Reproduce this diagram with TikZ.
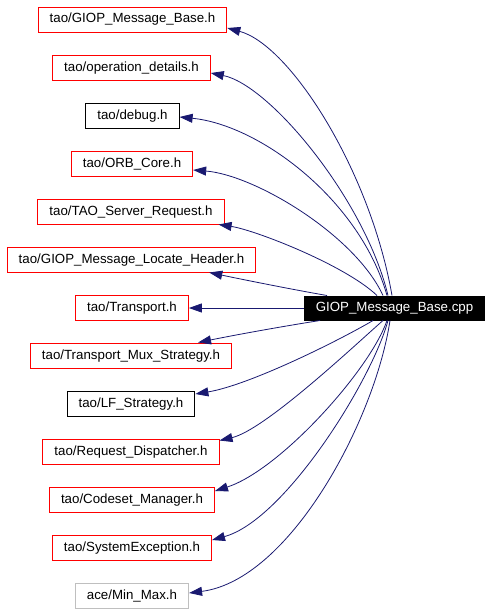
\documentclass[tikz,border=0pt]{standalone}
\usepackage{fontspec}
\setmainfont{Liberation Sans}
\usepackage{xcolor}
\usetikzlibrary{arrows.meta, positioning, calc}
\definecolor{navy}{HTML}{191970}
\definecolor{lightgray}{HTML}{BFBFBF}

\begin{document}
\begin{tikzpicture}[x=1pt, y=-1pt,
    file/.style={draw, line width=1pt, inner xsep=11.5pt, inner ysep=0pt,
                 minimum height=25pt, text height=10pt, text depth=3pt,
                 font=\fontsize{13.3pt}{16pt}\selectfont},
    redbox/.style={file, draw=red},
    blackbox/.style={file, draw=black},
    graybox/.style={file, draw=lightgray},
    srcbox/.style={file, draw=black, fill=black, text=white, minimum height=24pt},
    dep/.style={draw=navy, line width=0.8pt, -{Triangle[length=13pt, width=9pt]}}]
  \useasboundingbox (0,0) rectangle (491,613);

  % Source file
  \node [srcbox] (cpp) at (394.5,308) {GIOP\_Message\_Base.cpp};

  % Included headers
  \node [redbox]   (base)      at (132.5,19.5)  {tao/GIOP\_Message\_Base.h};
  \node [redbox]   (opdetails) at (131.5,67.5)  {tao/operation\_details.h};
  \node [blackbox] (debug)     at (132.5,115.5) {tao/debug.h};
  \node [redbox]   (orbcore)   at (132,163.5)   {tao/ORB\_Core.h};
  \node [redbox]   (srvreq)    at (131,211.5)   {tao/TAO\_Server\_Request.h};
  \node [redbox]   (locate)    at (131.5,259.5) {tao/GIOP\_Message\_Locate\_Header.h};
  \node [redbox]   (transport) at (132,308)     {tao/Transport.h};
  \node [redbox]   (muxstrat)  at (131,355.5)   {tao/Transport\_Mux\_Strategy.h};
  \node [blackbox] (lfstrat)   at (131,403.5)   {tao/LF\_Strategy.h};
  \node [redbox]   (reqdisp)   at (131,451.5)   {tao/Request\_Dispatcher.h};
  \node [redbox]   (codeset)   at (132,499.5)   {tao/Codeset\_Manager.h};
  \node [redbox]   (sysexc)    at (132,547.5)   {tao/SystemException.h};
  \node [graybox]  (minmax)    at (132,595.5)   {ace/Min\_Max.h};

  % Upper dependencies
  \draw [dep] ([xshift=-2.5pt]cpp.north) .. controls (370,170) and (290,45) .. ([yshift=-8.5pt]base.east);
  \draw [dep] ([xshift=-6.5pt]cpp.north) .. controls (365,200) and (270,85) .. ([yshift=-5.5pt]opdetails.east);
  \draw [dep] ([xshift=-7.5pt]cpp.north) .. controls (360,200) and (260,125) .. ([yshift=-1.5pt]debug.east);
  \draw [dep] ([xshift=-11.5pt]cpp.north) .. controls (355,235) and (255,175) .. ([yshift=-6.5pt]orbcore.east);
  \draw [dep] ([xshift=-17.5pt]cpp.north) .. controls (345,265) and (255,230) .. ([xshift=-6pt]srvreq.south east);
  \draw [dep] ([xshift=-67.5pt]cpp.north) .. controls (295,290) and (245,280) .. ([xshift=-47pt]locate.south east);

  % Straight one
  \draw [dep] (cpp.west) -- (transport.east);

  % Lower dependencies
  \draw [dep] ([xshift=-74.5pt]cpp.south) .. controls (285,326) and (240,334) .. ([xshift=-34pt]muxstrat.north east);
  \draw [dep] ([xshift=-21.5pt]cpp.south) .. controls (340,340) and (250,385) .. ([yshift=9.5pt]lfstrat.east);
  \draw [dep] ([xshift=-11.5pt]cpp.south) .. controls (355,345) and (265,430) .. ([yshift=11pt]reqdisp.east);
  \draw [dep] ([xshift=-7.5pt]cpp.south) .. controls (370,370) and (280,470) .. ([yshift=8.5pt]codeset.east);
  \draw [dep] ([xshift=-6.5pt]cpp.south) .. controls (372,380) and (285,520) .. ([yshift=7.5pt]sysexc.east);
  \draw [dep] ([xshift=-4.5pt]cpp.south) .. controls (375,420) and (290,580) .. ([yshift=2.5pt]minmax.east);
\end{tikzpicture}
\end{document}
